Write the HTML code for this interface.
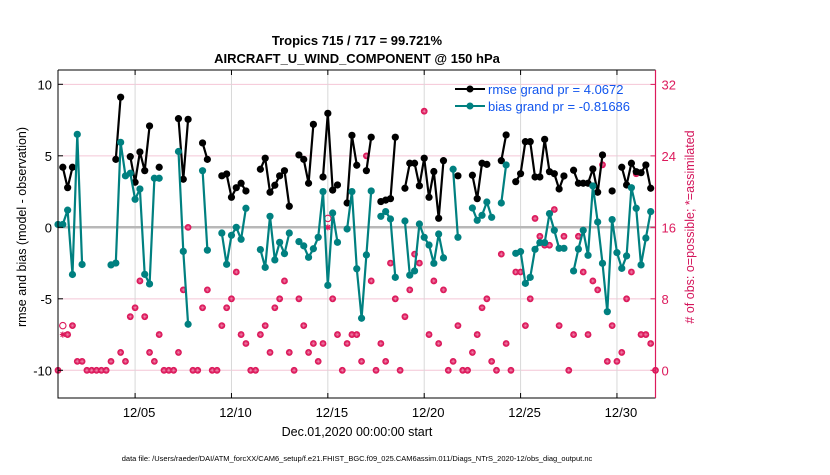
<!DOCTYPE html>
<html><head><meta charset="utf-8"><style>
body{margin:0;background:#fff;width:830px;height:470px;overflow:hidden;font-family:"Liberation Sans",sans-serif}
svg text{font-family:"Liberation Sans",sans-serif}
</style></head><body>
<svg id="chart" width="830" height="470" xmlns="http://www.w3.org/2000/svg">
<text x="357" y="45" text-anchor="middle" font-size="13" font-weight="bold">Tropics 715 / 717 = 99.721%</text>
<text x="357" y="63" text-anchor="middle" font-size="13" font-weight="bold">AIRCRAFT_U_WIND_COMPONENT @ 150 hPa</text>
<g id="grid"></g>
<g id="marks"></g>
<g id="axes"></g>
<text transform="translate(26,227) rotate(-90)" text-anchor="middle" font-size="12.5">rmse and bias (model - observation)</text>
<text transform="translate(694,227) rotate(-90)" text-anchor="middle" font-size="12.5" fill="#d4145a"># of obs: o=possible; *=assimilated</text>
<text x="357" y="436" text-anchor="middle" font-size="12.5">Dec.01,2020 00:00:00 start</text>
<text x="357" y="461" text-anchor="middle" font-size="7.5">data file: /Users/raeder/DAI/ATM_forcXX/CAM6_setup/f.e21.FHIST_BGC.f09_025.CAM6assim.011/Diags_NTrS_2020-12/obs_diag_output.nc</text>
<g>
<line x1="455" y1="89" x2="485" y2="89" stroke="#000" stroke-width="2"/>
<circle cx="470" cy="89" r="3.5" fill="#000"/>
<text x="488" y="94" font-size="13" fill="#1155ee">rmse grand pr = 4.0672</text>
<line x1="455" y1="106" x2="485" y2="106" stroke="#008080" stroke-width="2"/>
<circle cx="470" cy="106" r="3.5" fill="#008080"/>
<text x="488" y="111" font-size="13" fill="#1155ee">bias grand pr = -0.81686</text>
</g>
</svg>
<script>
const xTickLabels=["12/05","12/10","12/15","12/20","12/25","12/30"];
const xTickDays=[4,9,14,19,24,29];
const leftTicks=[10,5,0,-5,-10];
const rightTicks=[32,24,16,8,0];
const N=null;
const rmse=[N,4.2,2.77,4.2,N,N,N,N,N,N,N,N,4.75,9.1,N,4.94,3.15,5.27,3.96,7.09,N,4.2,N,N,N,7.6,3.36,7.55,N,N,5.9,4.75,N,N,3.6,3.73,2.1,2.77,3.08,2.54,N,N,4.06,4.83,2.45,2.94,3.6,3.96,1.47,N,5.06,4.75,3.08,7.2,N,3.52,7.97,2.6,2.96,N,1.7,6.43,4.34,N,3.96,6.3,N,1.8,1.9,2.0,6.3,N,2.73,4.48,4.48,2.9,4.83,2.1,3.9,0.63,4.66,N,N,3.6,N,N,3.64,2.0,4.48,4.4,N,N,4.66,6.46,N,3.19,3.75,5.99,5.99,3.52,3.52,6.15,3.89,3.75,2.68,3.59,N,3.99,3.08,3.08,3.08,4.08,2.45,5.06,N,2.54,N,4.2,2.96,4.48,3.89,3.82,4.36,2.73,N];
const bias=[0.2,0.2,1.2,-3.3,6.5,-2.6,N,N,N,N,N,-2.63,-2.5,5.94,3.6,3.78,1.96,2.68,-3.29,-3.96,3.43,3.43,N,N,N,5.3,-1.68,-6.78,N,N,3.96,-1.6,N,N,-0.4,-2.59,-0.56,0,-0.84,1.33,N,N,-1.56,-2.8,0.77,-2.28,-1.05,-1.84,-0.4,N,-1.0,-1.3,-2.1,-1.5,-0.7,2.5,-4.06,1.0,-1.05,N,-0.12,2.5,-2.9,-6.36,-1.93,2.54,N,0.77,1.1,0.58,-3.5,N,0.44,-3.35,-3.05,0.23,-0.7,-1.24,-2.52,-0.47,-2.14,N,4.06,-0.7,N,N,1.35,0.49,0.84,1.77,0.7,N,1.7,4.36,N,-1.82,-1.7,-3.92,-3.5,-1.54,-1.07,-1.07,0.96,-0.21,-1.47,-1.47,N,-3.05,-1.52,-0.21,-1.96,2.89,0.37,-2.52,-5.9,0.54,-1.77,-2.87,-2.0,2.77,1.33,-2.63,-0.75,1.1,N];
const nAssim=[0,4,4,5,1,1,0,0,0,0,0,1,12,2,1,6,7,10,6,2,1,4,0,0,0,2,9,16,0,0,7,9,0,0,5,7,8,11,4,3,0,0,4,5,2,7,8,10,2,0,8,5,2,3,1,3,16,8,4,0,3,4,4,1,24,10,0,3,1,12,8,0,6,9,13,12,29,4,10,3,9,0,1,5,0,0,2,4,7,8,1,0,13,3,0,11,11,5,8,17,15,14,14,18,5,15,0,4,15,11,4,10,9,23,1,5,1,2,8,11,22,4,4,3,0];
const nPoss=[0,5,4,5,1,1,0,0,0,0,0,1,12,2,1,6,7,10,6,2,1,4,0,0,0,2,9,16,0,0,7,9,0,0,5,7,8,11,4,3,0,0,4,5,2,7,8,10,2,0,8,5,2,3,1,3,17,8,4,0,3,4,4,1,24,10,0,3,1,12,8,0,6,9,13,12,29,4,10,3,9,0,1,5,0,0,2,4,7,8,1,0,13,3,0,11,11,5,8,17,15,14,14,18,5,15,0,4,15,11,4,10,9,23,1,5,1,2,8,11,22,4,4,3,0];

const L=58,R=655.5,T=70,B=398;
const X=d=>L+d*(R-L)/31;
const Y=v=>227.3-v*14.3;
const Y2=n=>370.3-n*(285.9/32);
const NS="http://www.w3.org/2000/svg";
const PINK='#dc1a5c';
function mk(parent,tag,attrs){const e=document.createElementNS(NS,tag);for(const k in attrs)e.setAttribute(k,attrs[k]);parent.appendChild(e);return e;}
const grid=document.getElementById('grid'),marks=document.getElementById('marks'),axes=document.getElementById('axes');
rightTicks.forEach(n=>{const g=mk(grid,'line',{x1:L,x2:R,y1:Y2(n),y2:Y2(n),stroke:'#f4c6d6','stroke-width':1});

});
xTickDays.forEach(d=>{const g=mk(grid,'line',{x1:X(d),x2:X(d),y1:T,y2:B,stroke:'#d8d8d8','stroke-width':1});

});
const zl=mk(grid,'line',{x1:L,x2:R,y1:Y(0),y2:Y(0),stroke:'#b8b8b8','stroke-width':2.5});


const tOf=i=>i*0.25;
function drawLine(arr,color,name){let d='',pen=false;arr.forEach((v,i)=>{if(v===null){pen=false;return;}d+=(pen?'L':'M')+X(tOf(i)).toFixed(1)+' '+Y(v).toFixed(1);pen=true;});
const p=mk(marks,'path',{d:d,fill:'none',stroke:color,'stroke-width':2.2,'stroke-linejoin':'round'});


arr.forEach((v,i)=>{if(v===null)return;const c=mk(marks,'circle',{cx:X(tOf(i)),cy:Y(v),r:3.6,fill:color});

});}
// obs markers
nPoss.forEach((n,i)=>{if(n===nAssim[i])return;const c=mk(marks,'circle',{cx:X(tOf(i)),cy:Y2(n),r:3.2,fill:'none',stroke:PINK,'stroke-width':1.1});

});
nAssim.forEach((n,i)=>{const x=X(tOf(i)),y=Y2(n);const g=mk(marks,'g',{});


if(n===nPoss[i]){mk(g,'circle',{cx:x,cy:y,r:3.4,fill:PINK});
mk(g,'path',{d:`M${x-2} ${y}H${x+2}M${x} ${y-2}V${y+2}M${x-1.4} ${y-1.4}L${x+1.4} ${y+1.4}M${x-1.4} ${y+1.4}L${x+1.4} ${y-1.4}`,stroke:'#f08cb0','stroke-width':0.5});}
else{mk(g,'path',{d:`M${x-3} ${y}H${x+3}M${x} ${y-3}V${y+3}M${x-2.2} ${y-2.2}L${x+2.2} ${y+2.2}M${x-2.2} ${y+2.2}L${x+2.2} ${y-2.2}`,stroke:PINK,'stroke-width':1.2});}});
drawLine(rmse,'#000','rmse');
drawLine(bias,'#008080','bias');
// axes
mk(axes,'path',{d:`M${L} ${T}H${R}M${L} ${T}V${B}H${R}`,fill:'none',stroke:'#000','stroke-width':1});
mk(axes,'line',{x1:R,x2:R,y1:T,y2:B,stroke:PINK,'stroke-width':1.2});
leftTicks.forEach(v=>{mk(axes,'line',{x1:L,x2:L+5,y1:Y(v),y2:Y(v),stroke:'#000'});
const t=mk(axes,'text',{x:L-6,y:Y(v)+5,'text-anchor':'end','font-size':13});t.textContent=v;

});
rightTicks.forEach(n=>{mk(axes,'line',{x1:R-5,x2:R,y1:Y2(n),y2:Y2(n),stroke:PINK});
const t=mk(axes,'text',{x:R+6,y:Y2(n)+5,'font-size':13,fill:PINK});t.textContent=n;

});
xTickDays.forEach((d,k)=>{mk(axes,'line',{x1:X(d),x2:X(d),y1:B,y2:B-5,stroke:'#000'});mk(axes,'line',{x1:X(d),x2:X(d),y1:T,y2:T+5,stroke:'#000'});
const t=mk(axes,'text',{x:X(d)+4,y:B+19,'text-anchor':'middle','font-size':13});t.textContent=xTickLabels[k];

});
</script>
</body></html>
